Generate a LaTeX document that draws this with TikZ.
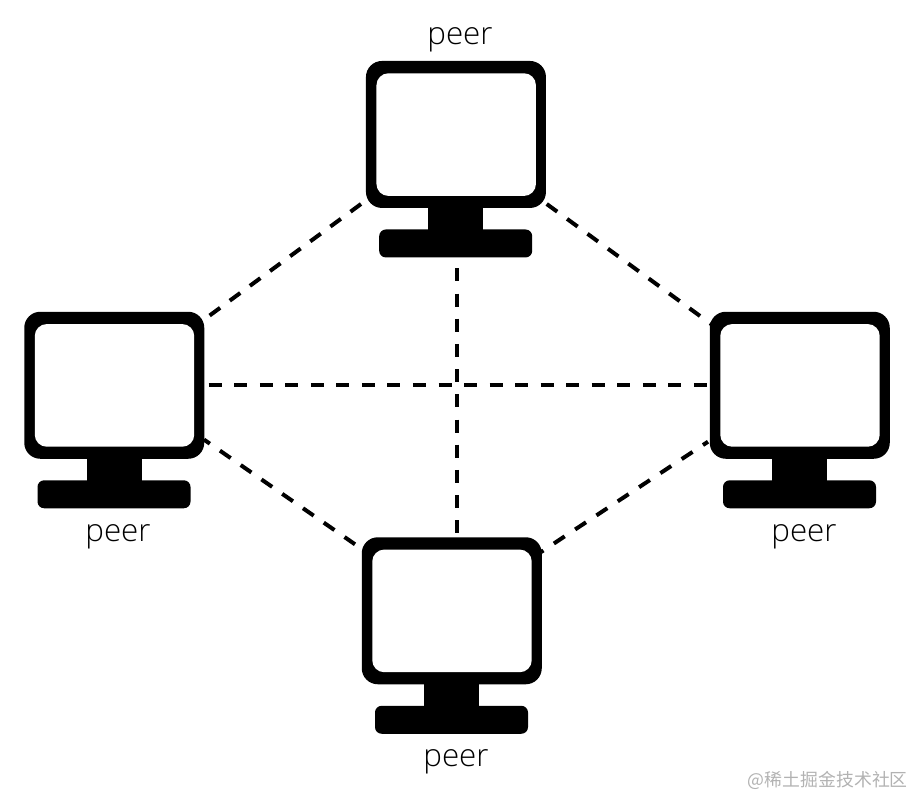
\documentclass[tikz,border=0pt]{standalone}
\usepackage{fontspec}
\setmainfont{Liberation Sans}
\newfontfamily\peerfont{Open Sans Light}
\newfontfamily\cjkwm{Noto Sans CJK SC}
\tikzset{
  x=0.75pt,y=-0.75pt,
  bodybox/.style={fill=black,rounded corners=12pt,inner sep=0pt,minimum width=135pt,minimum height=110.25pt,anchor=north west},
  screenbox/.style={fill=white,rounded corners=9pt,inner sep=0pt,minimum width=119.6pt,minimum height=92pt,anchor=north west},
  stembox/.style={fill=black,inner sep=0pt,minimum width=41.25pt,minimum height=27pt,anchor=north},
  basebox/.style={fill=black,rounded corners=5pt,inner sep=0pt,minimum width=114.75pt,minimum height=21pt,anchor=north},
  peerlabel/.style={font=\peerfont\fontsize{23.5pt}{26pt}\selectfont,text=black,anchor=base,inner sep=0pt},
  link/.style 2 args={line width=3pt,dash pattern=on 9.75pt off #1,dash phase=#2},
  peerpc/.pic={
    \node[stembox] (-stem) at (90,140) {};
    \node[basebox] (-base) at (90,168.5) {};
    \node[bodybox] (-body) at (0,0) {};
    \node[screenbox] (-screen) at (10.5,12.3) {};
  }
}
\begin{document}
\begin{tikzpicture}
\useasboundingbox (0,0) rectangle (914,796);
\pic (top) at (365.7,60.7) {peerpc};
\pic (left) at (24,311.5) {peerpc};
\pic (right) at (709.5,311.5) {peerpc};
\pic (bottom) at (361.5,537) {peerpc};
\node[peerlabel] (ltop) at (460,44) {peer};
\node[peerlabel] (lleft) at (118,541) {peer};
\node[peerlabel] (lright) at (804,541) {peer};
\node[peerlabel] (lbottom) at (456,766) {peer};
\coordinate (a1) at (361,204); \coordinate (a2) at (209,316);
\coordinate (b1) at (546.7,204); \coordinate (b2) at (711,324);
\coordinate (c1) at (457,268.3); \coordinate (c2) at (457,533);
\coordinate (d1) at (208.7,385); \coordinate (d2) at (709,385);
\coordinate (e1) at (204,439.6); \coordinate (e2) at (355,544.3);
\coordinate (f1) at (708,441.7); \coordinate (f2) at (541,552);
\draw[link={9pt}{0pt}] (a1) -- (a2);
\draw[link={9.2pt}{0pt}] (b1) -- (b2);
\draw[link={9.15pt}{0pt}] (c1) -- (c2);
\draw[link={9.4pt}{0pt}] (d1) -- (d2);
\draw[link={9.2pt}{4.4pt}] (e1) -- (e2);
\draw[link={9.4pt}{5.25pt}] (f1) -- (f2);
\node[font=\cjkwm\fontsize{13.4pt}{15pt}\selectfont,text=black!30,anchor=east,inner sep=0pt] (wm) at (908,780) {@稀土掘金技术社区};
\end{tikzpicture}
\end{document}
